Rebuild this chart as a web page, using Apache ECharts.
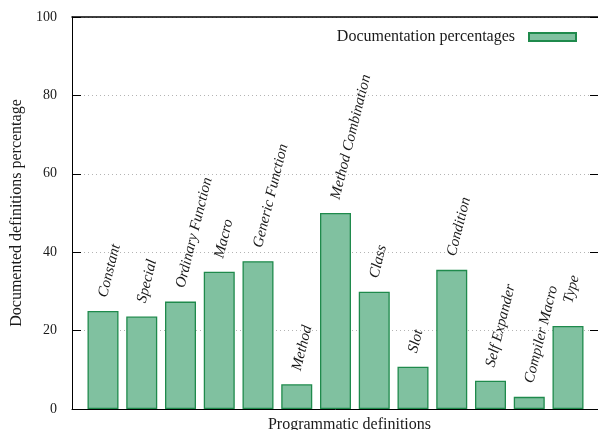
<!DOCTYPE html>
<html>
<head>
<meta charset="utf-8">
<script src="https://cdn.jsdelivr.net/npm/echarts@6/dist/echarts.min.js"></script>
<style>html,body{margin:0;padding:0;background:#fff}#c{width:598px;height:430px}</style>
</head>
<body>
<div id="c"></div>
<script>
const categories = ["Constant","Special","Ordinary Function","Macro","Generic Function","Method","Method Combination","Class","Slot","Condition","Self Expander","Compiler Macro","Type"];
const values = [25.0, 23.6, 27.4, 35.0, 37.7, 6.3, 50.0, 29.9, 10.8, 35.5, 7.2, 3.1, 21.2];
const seriesName = "Documentation percentages";
const yTicks = [0, 20, 40, 60, 80, 100];
const xTitle = "Programmatic definitions";
const yTitle = "Documented definitions percentage";

const FONT = "'Liberation Serif', 'DejaVu Serif', serif";
const chart = echarts.init(document.getElementById('c'), null, {renderer: 'canvas'});
const data = values.map((v, i) => {
  const d = {value: [i, v]};
  if (categories[i] === "Type") d.label = {offset: [9, -2]};
  return d;
});
chart.setOption({
  animation: false,
  backgroundColor: '#ffffff',
  textStyle: {fontFamily: FONT},
  grid: {left: 72, top: 17, width: 527, height: 392, containLabel: false, outerBoundsMode: 'none'},
  legend: {
    show: true,
    right: 16, top: 24,
    align: 'right',
    itemWidth: 47, itemHeight: 8,
    icon: 'rect',
    textStyle: {fontFamily: FONT, fontSize: 16, color: '#1a1a1a', padding: [0, 9, 0, 0]},
    data: [seriesName]
  },
  xAxis: [{
    type: 'value', min: -0.8, max: 12.8, position: 'bottom',
    axisLine: {show: true, onZero: false, lineStyle: {color: '#000', width: 1}},
    axisTick: {show: false}, axisLabel: {show: false}, splitLine: {show: false},
    name: xTitle, nameLocation: 'middle', nameGap: 8,
    nameTextStyle: {fontFamily: FONT, fontSize: 16, color: '#1a1a1a', padding: [0, 0, 0, 28], verticalAlign: 'top'}
  }, {
    type: 'value', min: -0.8, max: 12.8, position: 'top',
    axisLine: {show: true, onZero: false, lineStyle: {color: '#000', width: 1.5}},
    axisTick: {show: false}, axisLabel: {show: false}, splitLine: {show: false}
  }],
  yAxis: [{
    type: 'value', min: yTicks[0], max: yTicks[yTicks.length - 1], interval: yTicks[1] - yTicks[0],
    position: 'left',
    axisLine: {show: true, onZero: false, lineStyle: {color: '#000', width: 1}},
    axisTick: {show: true, inside: true, length: 9, lineStyle: {color: '#000', width: 1}},
    axisLabel: {show: true, margin: 15, fontFamily: FONT, fontSize: 14, color: '#1a1a1a'},
    splitLine: {show: true, lineStyle: {color: '#b4b4b4', width: 1, type: [1, 3]}},
    name: yTitle, nameLocation: 'middle', nameGap: 47, nameRotate: 90,
    nameTextStyle: {fontFamily: FONT, fontSize: 16, color: '#1a1a1a'}
  }, {
    type: 'value', min: yTicks[0], max: yTicks[yTicks.length - 1], interval: yTicks[1] - yTicks[0],
    position: 'right',
    axisLine: {show: false, onZero: false},
    axisTick: {show: true, inside: true, length: 9, lineStyle: {color: '#000', width: 1}},
    axisLabel: {show: false}, splitLine: {show: false}
  }],
  series: [{
    name: seriesName,
    type: 'bar',
    xAxisIndex: 0, yAxisIndex: 0,
    barWidth: 31,
    data: data,
    itemStyle: {color: '#80c1a0', borderColor: '#1f8a4c', borderWidth: 1.3},
    label: {
      show: true,
      position: 'top',
      distance: 14,
      rotate: 76,
      align: 'left',
      verticalAlign: 'middle',
      fontFamily: FONT,
      fontStyle: 'italic',
      fontSize: 15,
      color: '#1a1a1a',
      formatter: p => categories[p.dataIndex]
    }
  }]
});
</script>
</body>
</html>
